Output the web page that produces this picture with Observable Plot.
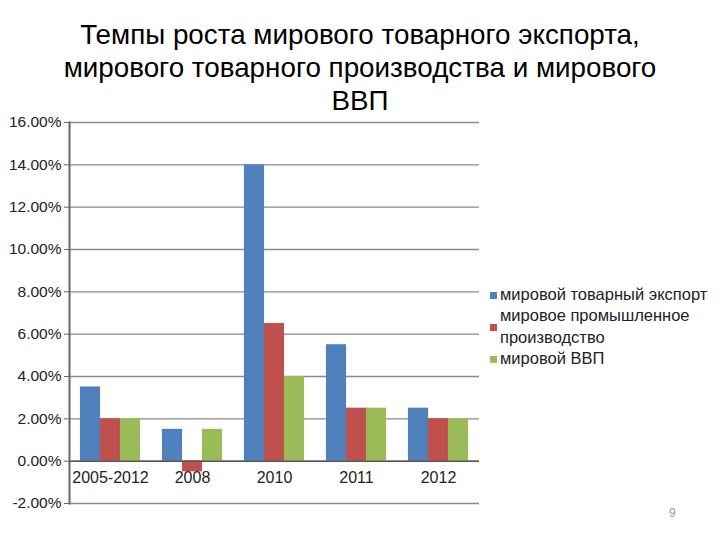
<!DOCTYPE html>
<html><head><meta charset="utf-8">
<script src="https://cdn.jsdelivr.net/npm/d3@7"></script>
<script src="https://cdn.jsdelivr.net/npm/@observablehq/plot@0.6"></script>
<style>
body{margin:0;background:#fff;font-family:"Liberation Sans",Arial,sans-serif;}
#wrap{position:relative;width:720px;height:540px;overflow:hidden;}
#title{position:absolute;left:0;top:18px;width:720px;text-align:center;font-size:27.8px;line-height:33px;color:#000;z-index:2;}
#chart{position:absolute;left:0;top:100px;z-index:1;}
#chart svg{background:transparent;}
#legend{position:absolute;left:490px;top:284px;font-size:16.5px;color:#222;line-height:21.3px;white-space:nowrap;z-index:2;}
#legend .row{position:relative;padding-left:10px;}
#legend .sw{position:absolute;left:0;width:7px;height:7px;}
#page{position:absolute;left:669px;top:506px;font-size:12px;color:#999;z-index:2;}
</style></head>
<body><div id="wrap">
<div id="chart"></div>
<div id="title">Темпы роста мирового товарного экспорта,<br>мирового товарного производства и мирового<br>ВВП</div>
<div id="legend"></div>
<div id="page">9</div>
</div>
<script>
const categories = ["2005-2012", "2008", "2010", "2011", "2012"];
const series = ["мировой товарный экспорт", "мировое промышленное производство", "мировой ВВП"];
const exportValues = [3.5, 1.5, 14.0, 5.5, 2.5];
const industryValues = [2.0, -0.5, 6.5, 2.5, 2.0];
const gdpValues = [2.0, 1.5, 4.0, 2.5, 2.0];
const yTicks = [-2, 0, 2, 4, 6, 8, 10, 12, 14, 16];
const colors = ["#4F81BD", "#C0504D", "#9BBB59"];
const legendLines = [["мировой товарный экспорт"], ["мировое промышленное", "производство"], ["мировой ВВП"]];

const valueLists = [exportValues, industryValues, gdpValues];
const data = [];
categories.forEach((c, i) => series.forEach((s, j) => data.push({cat: c, series: s, value: valueLists[j][i]})));
const fmt = d => d.toFixed(2) + "%";

const chart = Plot.plot({
  width: 720, height: 440,
  marginTop: 22, marginBottom: 37, marginLeft: 68, marginRight: 240,
  style: {fontFamily: "Liberation Sans, Arial, sans-serif", color: "#222", background: "transparent"},
  y: {domain: [-2, 16], label: null},
  x: {domain: series, paddingInner: 0, paddingOuter: 0.5, axis: null},
  fx: {domain: categories, padding: 0, axis: null, label: null},
  color: {domain: series, range: colors},
  marks: [
    Plot.ruleY(yTicks, {stroke: "#8a8a8a", strokeWidth: 1.3}),
    Plot.axisY(yTicks, {tickFormat: fmt, tickSize: 5, tickPadding: 3, fontSize: 15.5, stroke: "#666", label: null}),
    Plot.barY(data, {fx: "cat", x: "series", y: "value", fill: "series", stroke: d => d.series, strokeOpacity: 0.15, inset: 0}),
    Plot.ruleY([0], {stroke: "#555", strokeWidth: 1.5}),
    Plot.frame({anchor: "left", facetAnchor: "left", stroke: "#666", strokeWidth: 2}),
    Plot.text(categories, {fx: d => d, y: () => 0, text: d => d, dy: 17, fontSize: 16, fill: "#222"})
  ]
});
document.getElementById("chart").appendChild(chart);

const legend = document.getElementById("legend");
legendLines.forEach((lines, i) => {
  const row = document.createElement("div");
  row.className = "row";
  row.innerHTML = lines.join("<br>");
  const sw = document.createElement("span");
  sw.className = "sw";
  sw.style.background = colors[i];
  sw.style.top = (lines.length * 21.3 / 2 - 3) + "px";
  row.appendChild(sw);
  legend.appendChild(row);
});
</script>
</body></html>
